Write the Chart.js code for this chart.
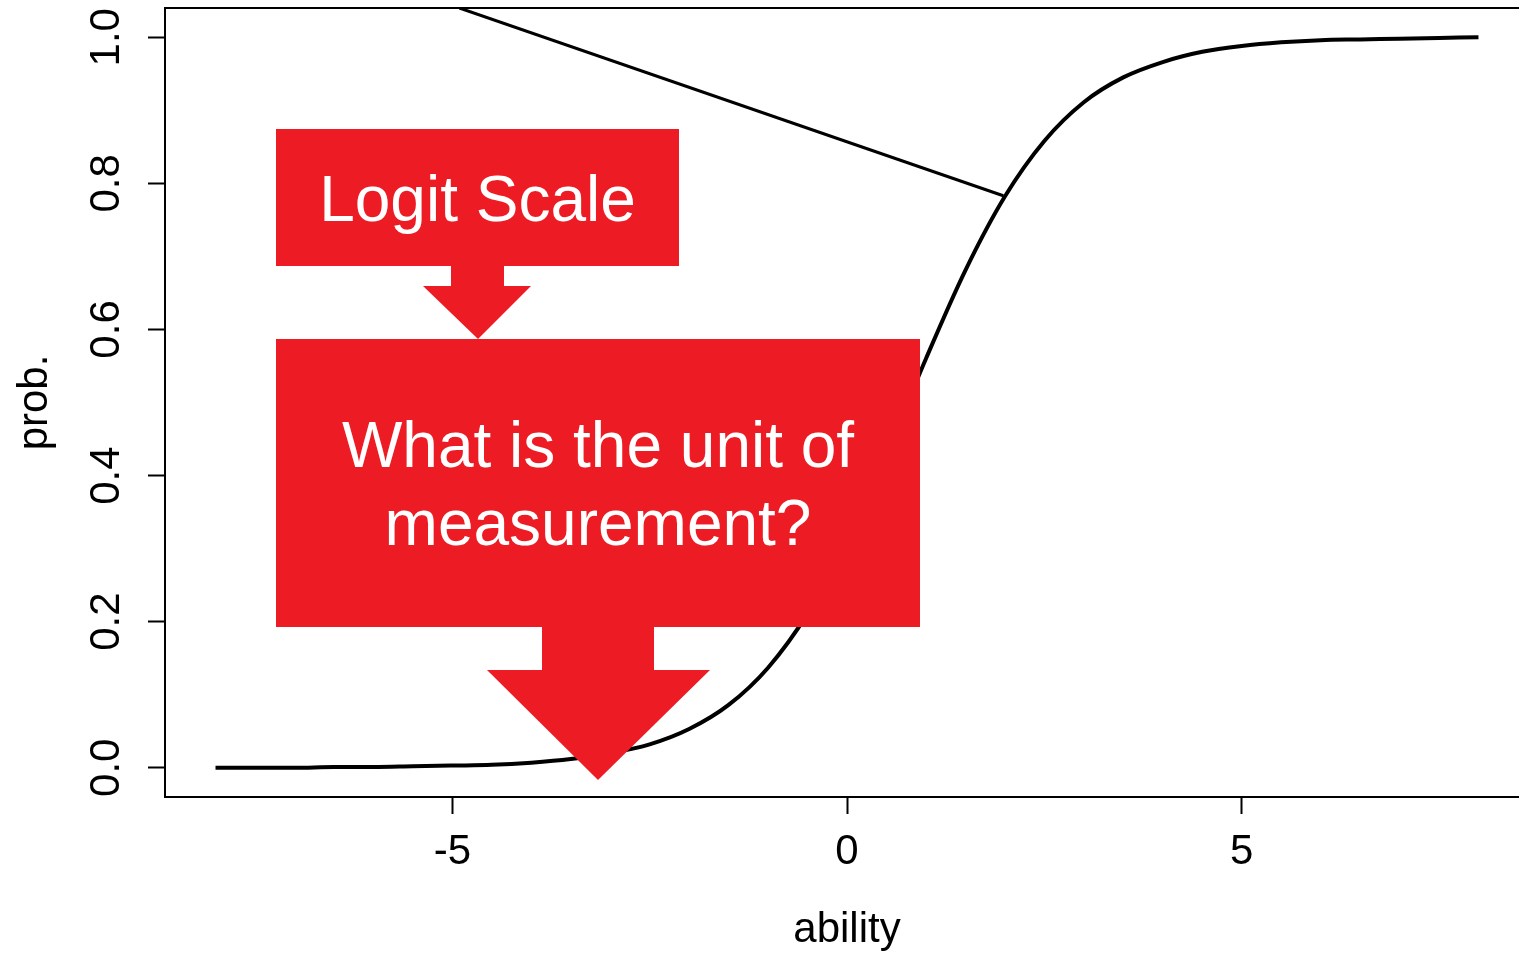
<!DOCTYPE html>
<html>
<head>
<meta charset="utf-8">
<script src="https://cdn.jsdelivr.net/npm/chart.js@4/dist/chart.umd.min.js"></script>
<style>
    html, body { margin: 0; padding: 0; background: #fff; overflow: hidden; }
    .chart-wrap { position: relative; width: 1529px; height: 956px; }
</style>
</head>
<body>
<div class="chart-wrap"><canvas id="iccChart"></canvas></div>
<script>
// data
var abilityValues = [-8, -7.5, -7, -6.5, -6, -5.5, -5, -4.5, -4, -3.5, -3, -2.5, -2, -1.5, -1, -0.5, 0, 0.5, 1, 1.5, 2, 2.5, 3, 3.5, 4, 4.5, 5, 5.5, 6, 6.5, 7, 7.5, 8];
var probValues = [0.000, 0.000, 0.000, 0.001, 0.001, 0.002, 0.003, 0.004, 0.007, 0.012, 0.020, 0.032, 0.053, 0.086, 0.137, 0.211, 0.310, 0.430, 0.560, 0.681, 0.782, 0.858, 0.911, 0.945, 0.966, 0.980, 0.988, 0.993, 0.996, 0.997, 0.998, 0.999, 1.000];
var pointerX = [-4.91, 1.98];
var pointerY = [1.04, 0.783];
var xTicks = [-5, 0, 5];
var yTicks = [0, 0.2, 0.4, 0.6, 0.8, 1.0];

var fontFamily = "'Liberation Sans', Arial, Helvetica, sans-serif";
var red = "#ED1C24";

function toPoints(xs, ys) {
    return xs.map(function (x, i) {
        return { x: x, y: ys[i] };
    });
}

// red callouts laid over the plot (slide annotations)
var callouts = [
    {
        box: [276, 129, 679, 266],
        lines: ["Logit Scale"],
        baselines: [221],
        stem: [451, 504, 286],
        head: [423, 531, 478, 339],
    },
    {
        box: [276, 339, 920, 627],
        lines: ["What is the unit of", "measurement?"],
        baselines: [467, 545],
        stem: [542, 654, 670],
        head: [487, 710, 598, 780],
    },
];

var framePlugin = {
    id: "frame",
    afterDatasetsDraw: function (chart) {
        let ctx = chart.ctx;
        let a = chart.chartArea;
        ctx.save();
        ctx.strokeStyle = "#000";
        ctx.lineWidth = 2;
        ctx.strokeRect(a.left, a.top, a.right - a.left, a.bottom - a.top);
        ctx.restore();
    },
};

var calloutPlugin = {
    id: "callouts",
    afterDraw: function (chart) {
        let ctx = chart.ctx;
        ctx.save();
        ctx.fillStyle = red;
        callouts.forEach(function (c) {
            let b = c.box;
            ctx.fillRect(b[0], b[1], b[2] - b[0], b[3] - b[1]);
            ctx.fillRect(c.stem[0], b[3] - 1, c.stem[1] - c.stem[0], c.stem[2] - b[3] + 1);
            ctx.beginPath();
            ctx.moveTo(c.head[0], c.stem[2]);
            ctx.lineTo(c.head[1], c.stem[2]);
            ctx.lineTo(c.head[2], c.head[3]);
            ctx.closePath();
            ctx.fill();
        });
        ctx.fillStyle = "#fff";
        ctx.font = "64px " + fontFamily;
        ctx.textAlign = "center";
        ctx.textBaseline = "alphabetic";
        callouts.forEach(function (c) {
            let cx = (c.box[0] + c.box[2]) / 2;
            c.lines.forEach(function (t, i) {
                ctx.fillText(t, cx, c.baselines[i]);
            });
        });
        ctx.restore();
    },
};

function mainChart() {
    let config_line = {
        type: "line",
        data: {
            datasets: [
                {
                    label: "prob.",
                    data: toPoints(abilityValues, probValues),
                    borderColor: "#000",
                    borderWidth: 4,
                    pointRadius: 0,
                    cubicInterpolationMode: "monotone",
                    fill: false,
                },
                {
                    label: "pointer",
                    data: toPoints(pointerX, pointerY),
                    borderColor: "#000",
                    borderWidth: 3,
                    pointRadius: 0,
                    fill: false,
                },
            ],
        },
        options: {
            responsive: true,
            maintainAspectRatio: false,
            animation: false,
            events: [],
            layout: {
                padding: { top: 8, right: 0, bottom: 0, left: 0 },
            },
            scales: {
                x: {
                    type: "linear",
                    min: -8.64,
                    max: 8.64,
                    afterFit: function (scale) {
                        scale.height = 159;
                        scale.paddingLeft = 0;
                        scale.paddingRight = 0;
                    },
                    afterBuildTicks: function (scale) {
                        scale.ticks = xTicks.map(function (v) {
                            return { value: v };
                        });
                    },
                    grid: {
                        drawOnChartArea: false,
                        drawTicks: true,
                        tickLength: 17,
                        tickWidth: 2,
                        tickColor: "#000",
                    },
                    border: { display: false },
                    ticks: {
                        color: "#000",
                        padding: 13,
                        maxRotation: 0,
                        autoSkip: false,
                        font: { family: fontFamily, size: 42 },
                        callback: function (v) {
                            return String(v);
                        },
                    },
                    title: {
                        display: true,
                        text: "ability",
                        color: "#000",
                        padding: { top: 0, bottom: 0 },
                        font: { family: fontFamily, size: 42 },
                    },
                },
                y: {
                    type: "linear",
                    min: -0.04,
                    max: 1.04,
                    afterFit: function (scale) {
                        scale.width = 165;
                        scale.paddingTop = 0;
                        scale.paddingBottom = 0;
                    },
                    afterBuildTicks: function (scale) {
                        scale.ticks = yTicks.map(function (v) {
                            return { value: v };
                        });
                    },
                    grid: {
                        drawOnChartArea: false,
                        drawTicks: true,
                        tickLength: 17,
                        tickWidth: 2,
                        tickColor: "#000",
                    },
                    border: { display: false },
                    ticks: {
                        color: "#000",
                        padding: 11,
                        minRotation: 90,
                        maxRotation: 90,
                        crossAlign: "center",
                        autoSkip: false,
                        font: { family: fontFamily, size: 42 },
                        callback: function (v) {
                            return Number(v).toFixed(1);
                        },
                    },
                    title: {
                        display: true,
                        text: "prob.",
                        color: "#000",
                        padding: { top: 10, bottom: 0 },
                        font: { family: fontFamily, size: 42 },
                    },
                },
            },
            plugins: {
                legend: { display: false },
                tooltip: { enabled: false },
            },
        },
        plugins: [framePlugin, calloutPlugin],
    };

    new Chart("iccChart", config_line);
}

mainChart();
</script>
</body>
</html>
